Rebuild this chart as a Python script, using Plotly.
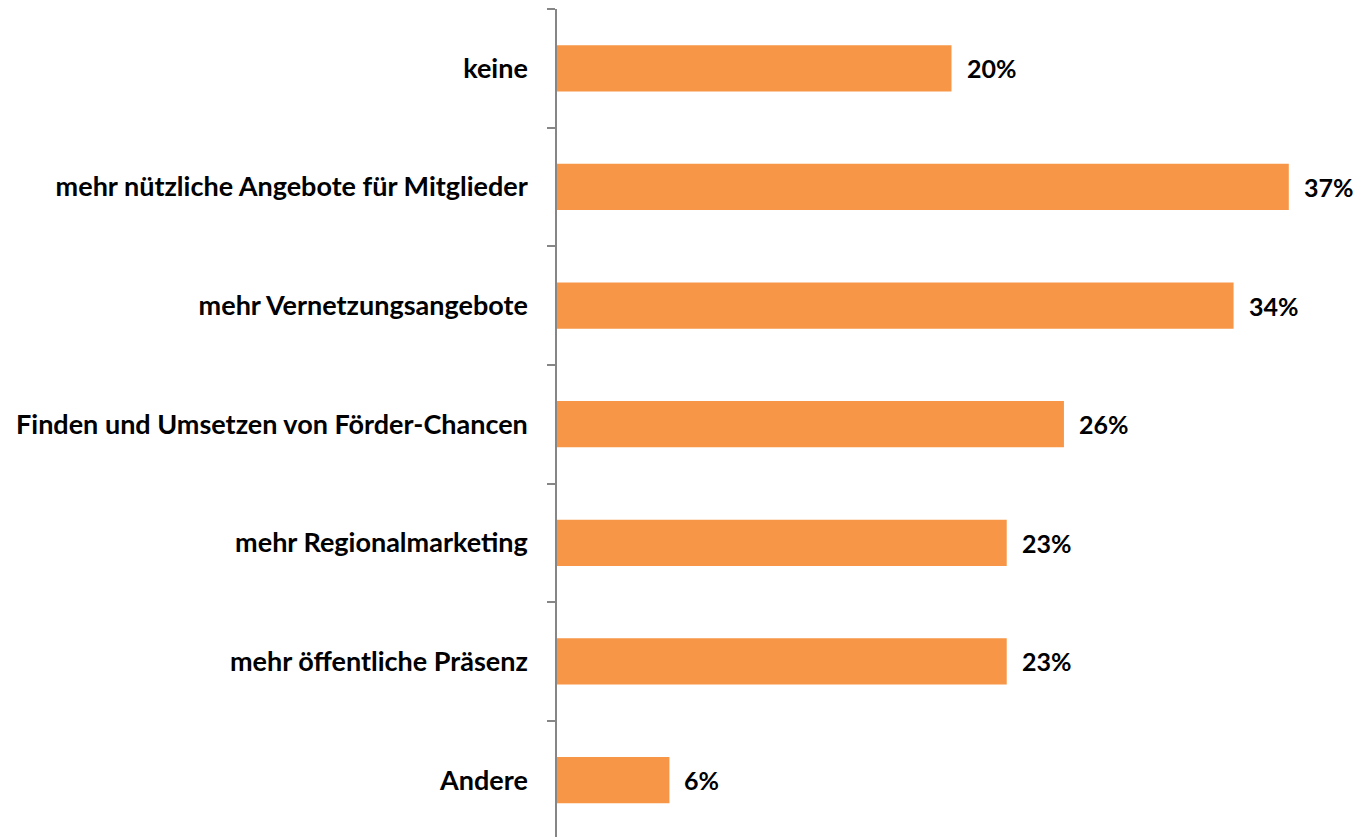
import plotly.graph_objects as go

categories = [
    "keine",
    "mehr nützliche Angebote für Mitglieder",
    "mehr Vernetzungsangebote",
    "Finden und Umsetzen von Förder-Chancen",
    "mehr Regionalmarketing",
    "mehr öffentliche Präsenz",
    "Andere",
]
values = [20.0, 37.1, 34.3, 25.7, 22.8, 22.8, 5.7]
labels = ["20%", "37%", "34%", "26%", "23%", "23%", "6%"]

FONT = "Lato"
FS = 27
fig = go.Figure()
fig.add_trace(go.Bar(
    x=values, y=categories, orientation="h",
    marker=dict(color="#F79646", line=dict(width=0)),
    width=0.39,
    hoverinfo="skip",
))
for v, c, t in zip(values, categories, labels):
    fig.add_annotation(x=v, y=c, text=t, showarrow=False, xanchor="left",
                       xshift=13, font=dict(family=FONT, size=25, color="#000000", weight="bold"))

fig.update_layout(
    width=1357, height=837,
    margin=dict(l=557, r=11, t=9, b=0),
    paper_bgcolor="white", plot_bgcolor="white",
    showlegend=False,
    font=dict(family=FONT, size=FS, color="#000000"),
    xaxis=dict(range=[0, 40], visible=False, fixedrange=True),
    yaxis=dict(
        type="category", categoryorder="array", categoryarray=categories,
        range=[6.48, -0.5], fixedrange=True,
        showline=True, linecolor="#868686", linewidth=1.5,
        ticks="outside", tickson="boundaries", ticklen=8, tickcolor="#868686", tickwidth=1.5,
        ticklabelstandoff=22,
        tickfont=dict(family=FONT, size=FS, color="#000000", weight="bold"),
        showgrid=False, zeroline=False,
    ),
)
fig.write_html("out.html", config={"displayModeBar": False},
               post_script="document.body.style.margin='0px';")
